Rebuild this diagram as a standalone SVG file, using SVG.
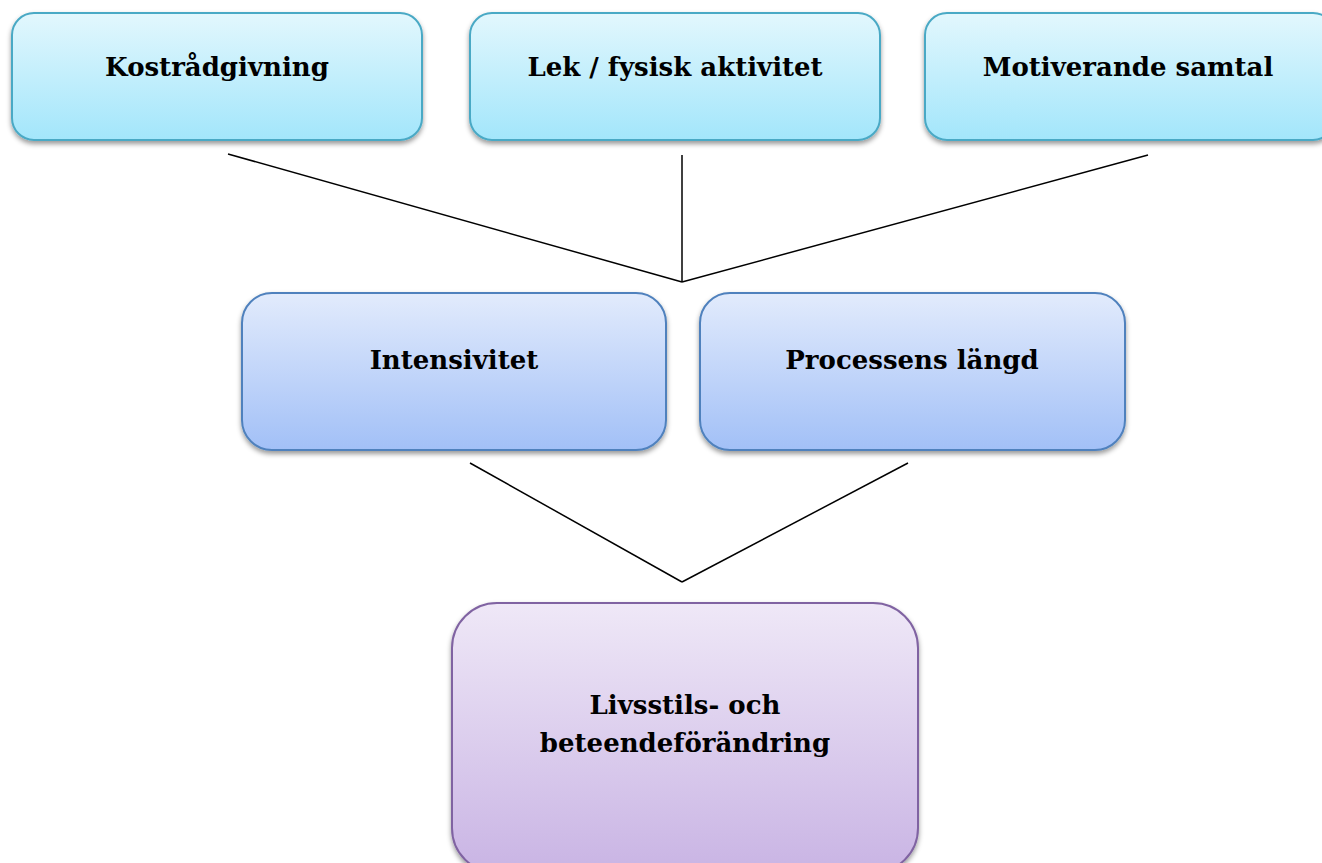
<svg xmlns="http://www.w3.org/2000/svg" width="1322" height="863" viewBox="0 0 1322 863">
<style>
.lbl{font-family:"DejaVu Serif","Liberation Serif",serif;font-weight:bold;font-size:26px;fill:#000;text-anchor:middle}
.c{stroke:#000;stroke-width:1.5;fill:none}
</style>
<defs>
<linearGradient id="gTop" x1="0" y1="0" x2="0" y2="1"><stop offset="0" stop-color="#e2f7fd"/><stop offset="1" stop-color="#a3e6fb"/></linearGradient>
<linearGradient id="gMid" x1="0" y1="0" x2="0" y2="1"><stop offset="0" stop-color="#e2ebfc"/><stop offset="1" stop-color="#a2c0f7"/></linearGradient>
<linearGradient id="gBot" x1="0" y1="0" x2="0" y2="1"><stop offset="0" stop-color="#efe8f7"/><stop offset="1" stop-color="#c9b4e4"/></linearGradient>
<filter id="sh" x="-10%" y="-10%" width="120%" height="130%"><feDropShadow dx="0" dy="3" stdDeviation="2.5" flood-color="#000" flood-opacity="0.4"/></filter>
</defs>
<g id="connectors">
<line class="c" x1="228" y1="154" x2="682" y2="282"/>
<line class="c" x1="682" y1="155" x2="682" y2="282"/>
<line class="c" x1="1148" y1="155" x2="682" y2="282"/>
<line class="c" x1="470" y1="463" x2="682" y2="582"/>
<line class="c" x1="908" y1="463" x2="682" y2="582"/>
</g>
<g id="kostradgivning">
<rect x="12" y="13" width="410" height="127" rx="22" fill="url(#gTop)" stroke="#4aa9c5" stroke-width="2" filter="url(#sh)"/>
<text class="lbl" x="217" y="76">Kostrådgivning</text>
</g>
<g id="lek">
<rect x="470" y="13" width="410" height="127" rx="22" fill="url(#gTop)" stroke="#4aa9c5" stroke-width="2" filter="url(#sh)"/>
<text class="lbl" x="675" y="76">Lek / fysisk aktivitet</text>
</g>
<g id="motiverande">
<rect x="925" y="13" width="410" height="127" rx="22" fill="url(#gTop)" stroke="#4aa9c5" stroke-width="2" filter="url(#sh)"/>
<text class="lbl" x="1128" y="76">Motiverande samtal</text>
</g>
<g id="intensivitet">
<rect x="242" y="293" width="424" height="157" rx="30" fill="url(#gMid)" stroke="#4f81bd" stroke-width="2" filter="url(#sh)"/>
<text class="lbl" x="454" y="369">Intensivitet</text>
</g>
<g id="processens">
<rect x="700" y="293" width="425" height="157" rx="30" fill="url(#gMid)" stroke="#4f81bd" stroke-width="2" filter="url(#sh)"/>
<text class="lbl" x="912" y="369">Processens längd</text>
</g>
<g id="livsstil">
<rect x="452" y="603" width="466" height="270" rx="45" fill="url(#gBot)" stroke="#8064a2" stroke-width="2" filter="url(#sh)"/>
<text class="lbl" x="685" y="714">Livsstils- och</text>
<text class="lbl" x="685" y="752">beteendeförändring</text>
</g>
</svg>
